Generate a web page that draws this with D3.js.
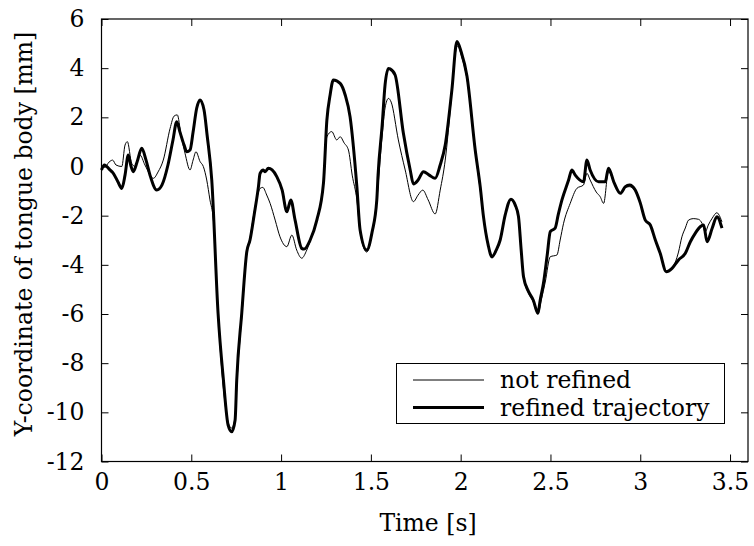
<!DOCTYPE html>
<html>
<head>
<meta charset="utf-8">
<script src="https://cdn.jsdelivr.net/npm/d3@7"></script>
<style>
  html, body { margin: 0; padding: 0; background: #fff; }
  svg text { font-family: "DejaVu Serif", serif; fill: #000; }
</style>
</head>
<body>
<svg id="chart" width="754" height="546"></svg>
<script>
// Tongue body Y-coordinate over time: raw vs. refined trajectory
const xTicks = [0, 0.5, 1, 1.5, 2, 2.5, 3, 3.5];
const yTicks = [-12, -10, -8, -6, -4, -2, 0, 2, 4, 6];
const seriesNames = ["not refined", "refined trajectory"];

// not refined: time [s] and Y [mm]
const rawT = [0,0.019,0.042,0.062,0.081,0.113,0.131,0.144,0.168,0.187,0.214,0.242,0.289,0.315,0.344,0.382,0.404,0.422,0.443,0.465,0.493,0.510,0.526,0.549,0.567,0.586,0.604,0.623,0.649,0.677,0.705,0.724,0.744,0.755,0.783,0.809,0.827,0.850,0.874,0.883,0.898,0.920,0.939,0.967,0.994,1.032,1.060,1.087,1.115,1.143,1.173,1.206,1.236,1.255,1.282,1.310,1.329,1.351,1.375,1.396,1.422,1.440,1.477,1.507,1.533,1.563,1.579,1.598,1.613,1.653,1.691,1.737,1.763,1.789,1.819,1.858,1.886,1.914,1.947,1.969,1.983,2.008,2.036,2.081,2.109,2.127,2.153,2.174,2.198,2.220,2.248,2.280,2.304,2.322,2.337,2.350,2.378,2.404,2.430,2.449,2.471,2.499,2.536,2.554,2.573,2.610,2.647,2.684,2.703,2.721,2.755,2.777,2.796,2.823,2.855,2.889,2.916,2.940,2.972,3.000,3.028,3.056,3.084,3.111,3.145,3.177,3.213,3.232,3.251,3.269,3.295,3.325,3.344,3.362,3.379,3.401,3.427,3.435,3.455];
const rawY = [0.00,-0.02,0.18,0.26,0.06,0.00,0.87,1.01,0.13,0.00,0.47,0.06,-0.48,-0.22,0.26,1.55,2.05,2.10,1.28,0.54,-0.14,0.26,0.60,0.20,0.00,-0.55,-1.36,-2.18,-6.04,-8.89,-10.39,-10.64,-10.23,-8.69,-5.96,-3.47,-2.91,-1.85,-1.04,-0.89,-0.85,-1.16,-1.50,-2.18,-2.86,-3.26,-2.79,-3.40,-3.73,-3.40,-2.79,-1.97,-0.75,1.21,1.42,1.08,1.21,0.96,0.67,-0.35,-1.36,-2.66,-3.48,-2.71,-1.36,1.28,2.38,2.77,2.62,1.08,-0.14,-1.43,-1.16,-0.96,-1.36,-1.93,-0.96,0.26,2.71,4.54,4.90,4.41,3.52,0.59,-0.96,-2.10,-3.23,-3.72,-3.44,-3.03,-2.01,-1.36,-1.61,-2.10,-3.44,-4.54,-5.15,-5.51,-6.00,-5.43,-4.70,-3.67,-3.60,-2.99,-2.31,-1.50,-0.89,-0.75,-0.28,-0.55,-1.04,-1.23,-1.50,-0.21,-0.67,-1.08,-0.83,-0.82,-1.00,-1.48,-2.18,-2.38,-2.99,-3.52,-4.25,-4.13,-3.48,-2.86,-2.50,-2.18,-2.12,-2.15,-2.31,-2.66,-2.38,-2.10,-1.88,-1.93,-2.25];

// refined trajectory: time [s] and Y [mm]
const refT = [0,0.016,0.047,0.064,0.092,0.113,0.131,0.149,0.164,0.177,0.198,0.224,0.248,0.270,0.308,0.337,0.370,0.398,0.419,0.437,0.460,0.475,0.493,0.510,0.530,0.549,0.571,0.588,0.614,0.649,0.679,0.705,0.725,0.744,0.753,0.781,0.809,0.827,0.850,0.874,0.883,0.901,0.911,0.929,0.950,0.976,1.006,1.032,1.054,1.078,1.115,1.128,1.162,1.199,1.236,1.255,1.273,1.291,1.329,1.357,1.384,1.422,1.440,1.477,1.507,1.533,1.540,1.563,1.579,1.598,1.607,1.635,1.681,1.719,1.737,1.763,1.793,1.825,1.858,1.886,1.914,1.951,1.979,2.003,2.035,2.081,2.109,2.127,2.153,2.174,2.198,2.220,2.248,2.280,2.304,2.322,2.337,2.350,2.378,2.404,2.430,2.443,2.461,2.482,2.499,2.526,2.543,2.564,2.601,2.619,2.638,2.684,2.703,2.721,2.768,2.805,2.823,2.855,2.889,2.916,2.940,2.972,3.000,3.028,3.056,3.084,3.111,3.145,3.177,3.213,3.251,3.279,3.306,3.334,3.353,3.372,3.401,3.427,3.455];
const refY = [-0.14,0.06,-0.14,-0.26,-0.63,-0.89,-0.35,0.47,0.02,-0.21,0.18,0.74,0.26,-0.35,-0.96,-0.75,0.06,1.08,1.82,1.40,0.87,0.60,0.67,1.40,2.37,2.71,2.30,1.28,-0.55,-5.96,-8.69,-10.52,-10.79,-10.31,-8.69,-5.96,-3.47,-2.99,-1.97,-0.82,-0.28,-0.14,-0.21,-0.07,-0.14,-0.41,-0.96,-1.84,-1.36,-2.18,-3.33,-3.36,-2.99,-2.18,-0.68,1.89,2.91,3.52,3.38,2.91,2.03,-0.82,-2.58,-3.40,-2.66,-1.36,-0.35,1.69,3.32,3.99,3.97,3.72,1.35,-0.14,-0.71,-0.55,-0.21,-0.35,-0.48,0.06,0.87,3.11,5.08,4.66,3.68,0.67,-0.83,-2.04,-3.19,-3.67,-3.40,-2.99,-1.97,-1.33,-1.57,-2.04,-3.40,-4.48,-5.09,-5.43,-5.97,-5.43,-4.75,-3.60,-2.65,-2.51,-1.97,-1.36,-0.55,-0.14,-0.35,-0.62,0.26,-0.14,-0.62,-0.62,-0.07,-0.67,-1.09,-0.83,-0.75,-0.96,-1.48,-2.18,-2.38,-2.99,-3.53,-4.28,-4.14,-3.80,-3.53,-3.06,-2.72,-2.45,-2.38,-3.06,-2.50,-2.04,-2.51];

const svg = d3.select("#chart");
const margin = { left: 101.5, right: 6, top: 19, bottom: 84.5 };
const W = 754, H = 546;
const x0 = margin.left, x1 = W - margin.right, y0 = margin.top, y1 = H - margin.bottom;

const x = d3.scaleLinear().domain([0, 3.6]).range([x0, x1]);
const y = d3.scaleLinear().domain([-12, 6]).range([y1, y0]);

const fontSize = 23.5;
const tickLen = 7;

// mirrored tick marks on all four sides
const axisStyle = g => {
  g.select(".domain").remove();
  g.selectAll(".tick line").attr("stroke", "#000").attr("stroke-width", 1);
  g.selectAll(".tick text").style("font-size", fontSize + "px");
};

svg.append("g").attr("transform", `translate(0,${y1})`)
  .call(d3.axisBottom(x).tickValues(xTicks).tickFormat(d => String(d)).tickSize(-tickLen).tickPadding(12))
  .call(axisStyle);
svg.append("g").attr("transform", `translate(0,${y0})`)
  .call(d3.axisTop(x).tickValues(xTicks).tickFormat("").tickSize(-tickLen))
  .call(axisStyle);
svg.append("g").attr("transform", `translate(${x0},0)`)
  .call(d3.axisLeft(y).tickValues(yTicks).tickFormat(d => String(d)).tickSize(-tickLen).tickPadding(17))
  .call(axisStyle);
svg.append("g").attr("transform", `translate(${x1},0)`)
  .call(d3.axisRight(y).tickValues(yTicks).tickFormat("").tickSize(-tickLen))
  .call(axisStyle);

// plot frame
svg.append("rect")
  .attr("x", x0).attr("y", y0).attr("width", x1 - x0).attr("height", y1 - y0)
  .attr("fill", "none").attr("stroke", "#000").attr("stroke-width", 1.2);

const line = d3.line().x(d => x(d[0])).y(d => y(d[1])).curve(d3.curveMonotoneX);

const rawData = rawT.map((t, i) => [t, rawY[i]]);
const refData = refT.map((t, i) => [t, refY[i]]);

svg.append("path").datum(rawData).attr("d", line)
  .attr("fill", "none").attr("stroke", "#000").attr("stroke-width", 1);
svg.append("path").datum(refData).attr("d", line)
  .attr("fill", "none").attr("stroke", "#000").attr("stroke-width", 3).attr("stroke-linejoin", "round");

// axis titles
svg.append("text").attr("x", 428).attr("y", 531)
  .attr("text-anchor", "middle").style("font-size", fontSize + "px").text("Time [s]");
svg.append("text").attr("transform", "translate(32,234) rotate(-90)")
  .attr("text-anchor", "middle").style("font-size", fontSize + "px").text("Y-coordinate of tongue body [mm]");

// legend
const legend = svg.append("g");
legend.append("rect").attr("x", 396.5).attr("y", 363.5).attr("width", 328).attr("height", 60)
  .attr("fill", "#fff").attr("stroke", "#000").attr("stroke-width", 1);
const widths = [1, 3];
seriesNames.forEach((name, i) => {
  const ly = 380 + i * 27.5;
  legend.append("line").attr("x1", 413).attr("x2", 484).attr("y1", ly).attr("y2", ly)
    .attr("stroke", "#000").attr("stroke-width", widths[i]);
  legend.append("text").attr("x", 500).attr("y", ly + 8)
    .style("font-size", fontSize + "px").text(name);
});
</script>
</body>
</html>
